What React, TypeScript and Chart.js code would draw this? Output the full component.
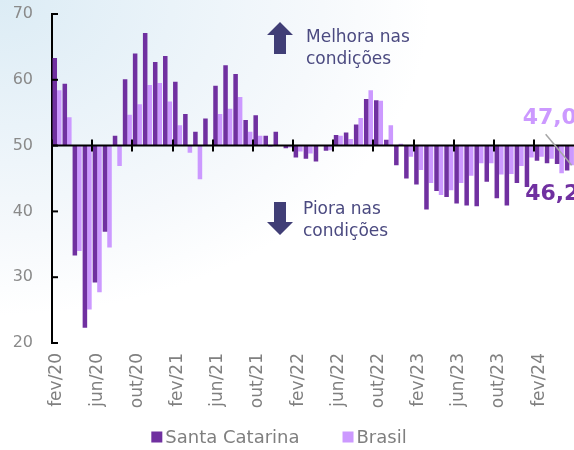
import React, { useEffect, useRef } from "react";
import { Chart, registerables } from "chart.js";

Chart.register(...registerables);

const months = [
  "fev/20", "mar/20", "abr/20", "mai/20", "jun/20", "jul/20", "ago/20", "set/20", "out/20", "nov/20", "dez/20",
  "jan/21", "fev/21", "mar/21", "abr/21", "mai/21", "jun/21", "jul/21", "ago/21", "set/21", "out/21", "nov/21", "dez/21",
  "jan/22", "fev/22", "mar/22", "abr/22", "mai/22", "jun/22", "jul/22", "ago/22", "set/22", "out/22", "nov/22", "dez/22",
  "jan/23", "fev/23", "mar/23", "abr/23", "mai/23", "jun/23", "jul/23", "ago/23", "set/23", "out/23", "nov/23", "dez/23",
  "jan/24", "fev/24", "mar/24", "abr/24", "mai/24",
];

const santaCatarina = [
  63.3, 59.4, 33.3, 22.3, 29.2, 36.9, 51.5, 60.1, 64.0, 67.1, 62.7,
  63.6, 59.7, 54.8, 52.1, 54.1, 59.1, 62.2, 60.9, 53.9, 54.6, 51.5, 52.1,
  49.6, 48.2, 48.0, 47.6, 49.2, 51.6, 52.0, 53.2, 57.1, 56.9, 50.9, 47.0,
  45.0, 44.1, 40.3, 43.1, 42.2, 41.2, 40.9, 40.8, 44.5, 42.0, 40.9, 44.3,
  43.7, 47.7, 47.3, 47.2, 46.2,
];

const brasil = [
  58.4, 54.3, 34.0, 25.1, 27.7, 34.5, 46.9, 54.7, 56.3, 59.2, 59.5,
  56.7, 53.1, 48.9, 44.9, 50.0, 54.8, 55.6, 57.4, 52.1, 51.5, 49.8, 50.0,
  49.7, 49.1, 48.8, 50.0, 49.3, 51.5, 51.0, 54.2, 58.4, 56.8, 53.1, 50.3,
  48.3, 46.3, 44.3, 42.5, 43.2, 44.3, 45.4, 47.3, 47.3, 45.6, 45.7, 46.9,
  48.2, 48.3, 48.0, 45.8, 47.0,
];

const yMin = 20;
const yMax = 70;
const yStep = 10;
const baseValue = 50;
const labelEvery = 4;

const seriesNames = ["Santa Catarina", "Brasil"];
const seriesColors = ["#7030A0", "#CC99FF"];

const upText = ["Melhora nas", "condições"];
const downText = ["Piora nas", "condições"];

const fmt = (v: number) => v.toFixed(1).replace(".", ",");

const decorPlugin = {
  id: "decor",
  afterDatasetsDraw(chart: any) {
    const ctx = chart.ctx;
    const { left, right } = chart.chartArea;
    const x = chart.scales.x;
    const y = chart.scales.y;
    const n = months.length;
    const cat = (right - left) / n;
    const y50 = y.getPixelForValue(baseValue);
    ctx.save();
    ctx.strokeStyle = "#000";
    ctx.lineWidth = 2;
    ctx.beginPath();
    ctx.moveTo(left, y50);
    ctx.lineTo(right, y50);
    ctx.stroke();
    for (let i = 0; i < n; i += labelEvery) {
      const px = Math.round(x.getPixelForValue(i) - cat / 2);
      ctx.beginPath();
      ctx.moveTo(px, y50 - 6);
      ctx.lineTo(px, y50 + 6);
      ctx.stroke();
    }
    for (let v = yMin; v <= yMax; v += yStep) {
      const py = y.getPixelForValue(v);
      ctx.beginPath();
      ctx.moveTo(left, py);
      ctx.lineTo(left + 6, py);
      ctx.stroke();
    }

    const arrowColor = "#403e76";
    const textColor = "#4b4a80";
    const ax = 280;
    ctx.fillStyle = arrowColor;
    ctx.beginPath();
    ctx.moveTo(ax, 22);
    ctx.lineTo(ax + 13, 35);
    ctx.lineTo(ax + 6, 35);
    ctx.lineTo(ax + 6, 54);
    ctx.lineTo(ax - 6, 54);
    ctx.lineTo(ax - 6, 35);
    ctx.lineTo(ax - 13, 35);
    ctx.closePath();
    ctx.fill();
    ctx.beginPath();
    ctx.moveTo(ax, 235);
    ctx.lineTo(ax + 13, 222);
    ctx.lineTo(ax + 6, 222);
    ctx.lineTo(ax + 6, 202);
    ctx.lineTo(ax - 6, 202);
    ctx.lineTo(ax - 6, 222);
    ctx.lineTo(ax - 13, 222);
    ctx.closePath();
    ctx.fill();

    ctx.fillStyle = textColor;
    ctx.font = "17px 'DejaVu Sans'";
    ctx.textAlign = "left";
    ctx.textBaseline = "alphabetic";
    ctx.fillText(upText[0], 306, 42);
    ctx.fillText(upText[1], 306, 64);
    ctx.fillText(downText[0], 303, 214);
    ctx.fillText(downText[1], 303, 236);

    const last = n - 1;
    const m0 = chart.getDatasetMeta(0).data[last];
    const m1 = chart.getDatasetMeta(1).data[last];
    const v0 = santaCatarina[last];
    const v1 = brasil[last];
    const y0 = y.getPixelForValue(v0);
    const y1 = y.getPixelForValue(v1);
    ctx.strokeStyle = "#a6a6a6";
    ctx.lineWidth = 1.5;
    ctx.beginPath();
    ctx.moveTo(m1.x - 26, y1 - 31);
    ctx.lineTo(m1.x, y1);
    ctx.stroke();
    ctx.font = "bold 22px 'DejaVu Sans'";
    ctx.fillStyle = seriesColors[1];
    ctx.fillText(fmt(v1), m1.x - 49, y1 - 41);
    ctx.fillStyle = seriesColors[0];
    ctx.fillText(fmt(v0), m0.x - 42, y0 + 29);

    ctx.font = "18px 'DejaVu Sans'";
    ctx.textBaseline = "middle";
    const box = 11;
    const gap = 3;
    const spacing = 43;
    const widths = seriesNames.map((s) => box + gap + ctx.measureText(s).width);
    const total = widths.reduce((a, b) => a + b, 0) + spacing * (widths.length - 1);
    let lx = 279 - total / 2;
    const ly = 437;
    seriesNames.forEach((s, i) => {
      ctx.fillStyle = seriesColors[i];
      ctx.fillRect(lx, ly - box / 2, box, box);
      ctx.fillStyle = "#7f7f7f";
      ctx.fillText(s, lx + box + gap, ly + 1);
      lx += widths[i] + spacing;
    });
    ctx.restore();
  },
};

export default function App() {
  const ref = useRef<HTMLCanvasElement>(null);
  useEffect(() => {
    if (!ref.current) return;
    const chart = new Chart(ref.current, {
      type: "bar",
      data: {
        labels: months,
        datasets: [
          { label: seriesNames[0], data: santaCatarina, backgroundColor: seriesColors[0], base: baseValue, borderWidth: 0 } as any,
          { label: seriesNames[1], data: brasil, backgroundColor: seriesColors[1], base: baseValue, borderWidth: 0 } as any,
        ],
      },
      options: {
        responsive: false,
        animation: false,
        devicePixelRatio: 1,
        categoryPercentage: 0.9,
        barPercentage: 1,
        layout: { padding: { top: 14, right: 22, left: 0, bottom: 0 } },
        plugins: { legend: { display: false }, tooltip: { enabled: false } },
        scales: {
          x: {
            grid: { display: false, drawTicks: false },
            border: { display: false },
            ticks: {
              autoSkip: false,
              maxRotation: 90,
              minRotation: 90,
              padding: 10,
              color: "#808080",
              font: { family: "'DejaVu Sans'", size: 17 },
              callback: (_v: any, i: number) => (i % labelEvery === 0 ? months[i] : ""),
            },
            afterFit: (s: any) => {
              s.height = 107;
            },
          },
          y: {
            min: yMin,
            max: yMax,
            grid: { display: false, drawTicks: false },
            border: { display: true, color: "#000", width: 2 },
            ticks: {
              stepSize: yStep,
              padding: 19,
              color: "#8a8a8a",
              font: { family: "'DejaVu Sans'", size: 16 },
            },
            afterFit: (s: any) => {
              s.width = 52;
              s.paddingTop = 0;
              s.paddingBottom = 0;
            },
          },
        },
      } as any,
      plugins: [decorPlugin],
    });
    return () => chart.destroy();
  }, []);
  return (
    <div
      style={{
        position: "fixed",
        left: 0,
        top: 0,
        width: 574,
        height: 450,
        overflow: "hidden",
        background:
          "radial-gradient(ellipse 75% 70% at 0% 0%, #dcecf5 0%, #eaf3f9 40%, #f6f9fc 75%, #ffffff 100%)",
      }}
    >
      <canvas ref={ref} width={600} height={450} style={{ width: 600, height: 450, display: "block" }} />
    </div>
  );
}
